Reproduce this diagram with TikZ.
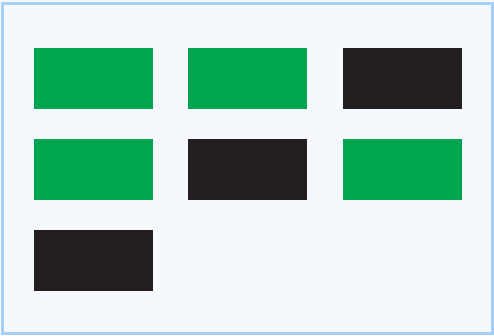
\documentclass[tikz,border=0pt]{standalone}
\begin{document}
\begin{tikzpicture}[x=1pt,y=-1pt,
  greenbox/.style={fill=boxgreen,draw=none,minimum width=119pt,minimum height=61pt,inner sep=0pt,anchor=north west},
  darkbox/.style={fill=boxdark,draw=none,minimum width=119pt,minimum height=61pt,inner sep=0pt,anchor=north west}]
\definecolor{boxgreen}{HTML}{00A54F}
\definecolor{boxdark}{HTML}{231F20}
\definecolor{bgblue}{HTML}{F5F9FE}
\definecolor{borderblue}{HTML}{A6D0F7}
\useasboundingbox (0,0) rectangle (494,335);
\fill[bgblue] (0,0) rectangle (494,335);
\draw[borderblue,line width=3pt] (2.5,3.2) rectangle (492.8,333.3);
\node[greenbox] (a1) at (34,48) {};
\node[greenbox] (a2) at (188,48) {};
\node[darkbox] (a3) at (343,48) {};
\node[greenbox] (b1) at (34,139) {};
\node[darkbox] (b2) at (188,139) {};
\node[greenbox] (b3) at (343,139) {};
\node[darkbox] (c1) at (34,230) {};
\end{tikzpicture}
\end{document}
